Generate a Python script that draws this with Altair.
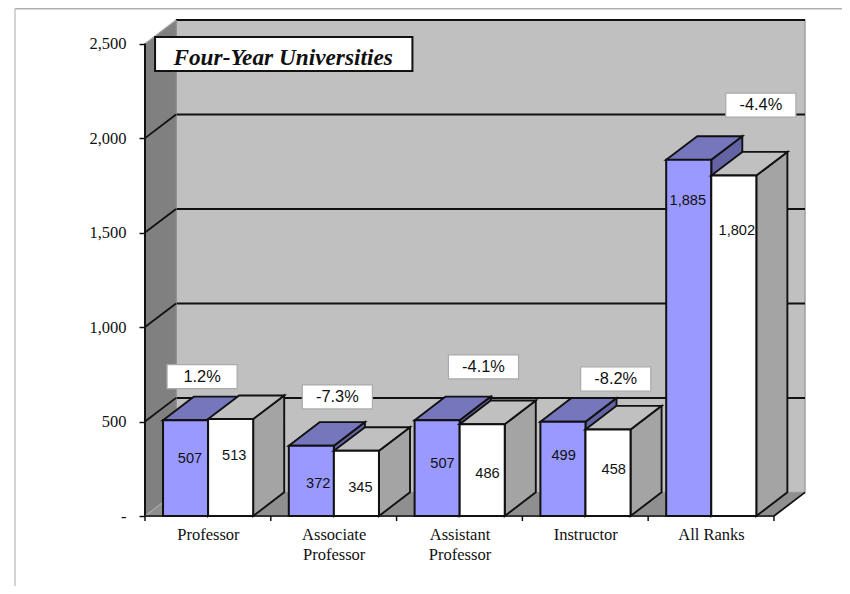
import altair as alt
import pandas as pd

categories = ["Professor", "Associate Professor", "Assistant Professor", "Instructor", "All Ranks"]
blue_values = [507, 372, 507, 499, 1885]
white_values = [513, 345, 486, 458, 1802]
pct_labels = ["1.2%", "-7.3%", "-4.1%", "-8.2%", "-4.4%"]

# hand-placed label anchors of the original, in chart units (category number, axis value)
blue_label_x = [0.358, 1.377, 2.365, 3.328, 4.315]
blue_label_y = [302, 169, 275, 318, 1667]
white_label_x = [0.709, 1.712, 2.723, 3.726, 4.705]
white_label_y = [318, 148, 222, 243, 1508]
pct_x = [0.454, 1.529, 2.691, 3.742, 4.896]
pct_y = [738, 630, 789, 725, 2175]

DX = 31 / 125.6      # depth of the oblique projection, category units
DY = 125             # depth of the oblique projection, axis units
START = 18 / 125.6
BW = 45 / 125.6
XMAX = 5 + DX
YMAX = 2500 + DY
W, H = 660, 496

sx = alt.Scale(domain=[0, XMAX], nice=False, zero=False)
sy = alt.Scale(domain=[0, YMAX], nice=False, zero=False)

x_axis = alt.Axis(
    values=[i + 0.5 for i in range(5)], ticks=False, domain=False, grid=False, labelAngle=0,
    labelFont="Liberation Serif", labelFontSize=16.5, labelColor="#111", labelPadding=10, labelLineHeight=20,
    labelExpr="datum.value==0.5?'Professor':datum.value==1.5?['Associate','Professor']:"
              "datum.value==2.5?['Assistant','Professor']:datum.value==3.5?'Instructor':'All Ranks'",
)
y_axis = alt.Axis(
    values=[0, 500, 1000, 1500, 2000, 2500], domain=False, grid=False, tickColor="#111", tickSize=6, tickWidth=1.5,
    labelFont="Liberation Serif", labelFontSize=16.5, labelColor="#111", labelPadding=13,
    labelExpr="datum.value==0?'-\u00a0\u00a0':format(datum.value,',')",
)


def X(f="x"):
    return alt.X(f"{f}:Q", scale=sx, axis=x_axis, title=None)


def Y(f="y"):
    return alt.Y(f"{f}:Q", scale=sy, axis=y_axis, title=None)


def side_rows(vals, x0):
    rows = []
    for i, v in enumerate(vals):
        x = i + x0
        rows.append({"c": i, "x": x, "y": 0, "y2": v})
        rows.append({"c": i, "x": x + DX, "y": DY, "y2": v + DY})
    return pd.DataFrame(rows)


def top_rows(vals, x0):
    rows = []
    for i, v in enumerate(vals):
        x = i + x0
        rows.append({"c": i, "y": v, "x": x, "x2": x + BW})
        rows.append({"c": i, "y": v + DY, "x": x + DX, "x2": x + BW + DX})
    return pd.DataFrame(rows)


def front_rows(vals, x0):
    return pd.DataFrame([{"x": i + x0, "x2": i + x0 + BW, "y": 0, "y2": v} for i, v in enumerate(vals)])


def side(vals, x0, col):
    return alt.Chart(side_rows(vals, x0 + BW)).mark_area(fill=col, stroke="#111", strokeWidth=1.9, opacity=1).encode(
        x=X(), y=Y(), y2="y2:Q", detail="c:N")


def top(vals, x0, col):
    return alt.Chart(top_rows(vals, x0)).mark_area(orient="horizontal", fill=col, stroke="#111", strokeWidth=1.9, opacity=1).encode(
        y=Y(), x=X(), x2="x2:Q", detail="c:N")


def front(vals, x0, col):
    return alt.Chart(front_rows(vals, x0)).mark_rect(fill=col, stroke="#111", strokeWidth=2).encode(
        x=X(), x2="x2:Q", y=Y(), y2="y2:Q")


def edge(rows, color, width):
    return alt.Chart(pd.DataFrame(rows)).mark_rule(color=color, strokeWidth=width).encode(
        x=X(), x2="x2:Q", y=Y(), y2="y2:Q")


def number_text(labels, xs, ys, size, fam="Liberation Sans", **kw):
    df = pd.DataFrame({"t": labels, "x": xs, "y": ys})
    return alt.Chart(df).mark_text(font=fam, fontSize=size, color="#111", align="center", baseline="middle", **kw).encode(
        x=X(), y=Y(), text="t:N")


back = alt.Chart(pd.DataFrame([{"x": DX, "x2": XMAX, "y": DY, "y2": YMAX}])).mark_rect(
    fill="#c0c0c0", stroke="#a0a0a0", strokeWidth=1.5).encode(
    x=X(), x2="x2:Q", y=Y(), y2="y2:Q")

grid = edge([{"x": DX, "x2": XMAX, "y": v + DY, "y2": v + DY} for v in [500, 1000, 1500, 2000, 2500]], "#111", 2)

left_wall = alt.Chart(pd.DataFrame([{"x": 0, "y": 0, "y2": 2500}, {"x": DX, "y": DY, "y2": YMAX}])).mark_area(
    fill="#808080", opacity=1).encode(x=X(), y=Y(), y2="y2:Q")
floor = alt.Chart(pd.DataFrame([{"y": 0, "x": 0, "x2": 5}, {"y": DY, "x": DX, "x2": XMAX}])).mark_area(
    orient="horizontal", fill="#8f8f8f", opacity=1).encode(y=Y(), x=X(), x2="x2:Q")

diagonals = edge([{"x": 0, "x2": DX, "y": v, "y2": v + DY} for v in [500, 1000, 1500, 2000]]
                 + [{"x": 5, "x2": XMAX, "y": 0, "y2": DY}], "#111", 1.8)
soft_diagonals = edge([{"x": 0, "x2": DX, "y": v, "y2": v + DY} for v in [0, 2500]], "#a8a8a8", 1.2)
floor_back = edge([{"x": DX, "x2": DX, "y": DY, "y2": YMAX}], "#8a8a8a", 1.2)
left_axis = edge([{"x": 0, "x2": 0, "y": 0, "y2": 2500}], "#111", 2)
base = edge([{"x": 0, "x2": 5, "y": 0, "y2": 0}], "#333", 2)

x_ticks = alt.Chart(pd.DataFrame({"x": list(range(6))})).mark_rule(color="#111", strokeWidth=1.5).encode(
    x=X(), y=alt.value(H), y2=alt.value(H + 5))

RIGHT = 37
frame_top = alt.Chart(pd.DataFrame({"a": [0]})).mark_rule(color="#b0b0b0", strokeWidth=1.5).encode(
    x=alt.value(-130), x2=alt.value(W + RIGHT), y=alt.value(-11.3))
frame_left = alt.Chart(pd.DataFrame({"a": [0]})).mark_rule(color="#c4c4c4", strokeWidth=1.5).encode(
    x=alt.value(-130), y=alt.value(-11.3), y2=alt.value(H + 70))

HW, HH = 35 / 125.6, 63.5
pct_box = alt.Chart(pd.DataFrame({
    "x": [x - HW for x in pct_x], "x2": [x + HW for x in pct_x],
    "y": [y - HH for y in pct_y], "y2": [y + HH for y in pct_y]})).mark_rect(
    fill="white", stroke="#aaaaaa", strokeWidth=1.2).encode(x=X(), x2="x2:Q", y=Y(), y2="y2:Q")

title_box = alt.Chart(pd.DataFrame([{"x": 0.08, "x2": 2.126, "y": 2355, "y2": 2535}])).mark_rect(
    fill="white", stroke="#111", strokeWidth=2).encode(x=X(), x2="x2:Q", y=Y(), y2="y2:Q")
title_text = number_text(["Four-Year Universities"], [1.098], [2425], 23.3, fam="Liberation Serif",
                         fontWeight="bold", fontStyle="italic")

chart = alt.layer(
    back, grid, left_wall, floor, floor_back, soft_diagonals, diagonals, left_axis, base, x_ticks,
    frame_top, frame_left,
    side(blue_values, START, "#6464a4"), top(blue_values, START, "#7676bc"), front(blue_values, START, "#9999ff"),
    side(white_values, START + BW, "#a4a4a4"), top(white_values, START + BW, "#c0c0c0"), front(white_values, START + BW, "#ffffff"),
    number_text([f"{v:,}" for v in blue_values], blue_label_x, blue_label_y, 14.6),
    number_text([f"{v:,}" for v in white_values], white_label_x, white_label_y, 14.6),
    pct_box, number_text(pct_labels, pct_x, pct_y, 16.4),
    title_box, title_text,
).properties(
    width=W, height=H,
    padding={"left": 137, "top": 12, "right": RIGHT, "bottom": 70},
    autosize=alt.AutoSizeParams(type="none", contains="content"),
    background="white",
).configure_view(stroke=None)

chart.save("out.html", embed_options={"renderer": "svg", "actions": False})
